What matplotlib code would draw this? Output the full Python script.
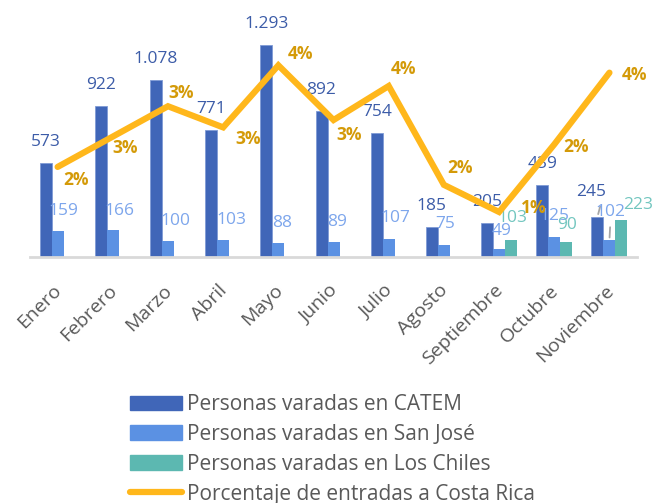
import numpy as np
import matplotlib
matplotlib.use("Agg")
import matplotlib.pyplot as plt
from matplotlib.patches import Patch
from matplotlib.lines import Line2D
from matplotlib.transforms import ScaledTranslation

plt.rcParams['font.family'] = ['Open Sans', 'DejaVu Sans']

# data
months = ['Enero', 'Febrero', 'Marzo', 'Abril', 'Mayo', 'Junio', 'Julio',
          'Agosto', 'Septiembre', 'Octubre', 'Noviembre']
catem = [573, 922, 1078, 771, 1293, 892, 754, 185, 205, 439, 245]
san_jose = [159, 166, 100, 103, 88, 89, 107, 75, 49, 125, 102]
los_chiles = [0, 0, 0, 0, 0, 0, 0, 0, 103, 90, 223]
pct_entradas = [1.96, 2.62, 3.28, 2.82, 4.17, 2.98, 3.72, 1.57, 0.98, 2.45, 4.01]

# label placement, pixels relative to the bar top / line point
catem_off = [(0, 17)] * 9 + [(0, 17), (-6, 21)]
sj_off = [(5.5, 16), (7, 15), (7.5, 16), (8.5, 16), (3.5, 16), (3.5, 16),
          (7, 17), (1, 17), (2, 14), (0, 17), (1, 24)]
lc_off = [(0, 15)] * 8 + [(1, 18), (1, 13), (16.5, 11)]
pct_off = [(6, -13), (0, -11), (0, 13), (12, -12), (9, 11), (3, -15),
           (2, 17), (3, 17), (22, 4), (9, -3), (12, -2)]

c_catem = '#4066b8'
c_sj = '#5b91e3'
c_lc = '#5cb8b1'
c_line = '#ffb71b'
c_pct = '#d49a08'
c_text = '#595959'
c_leader = '#a6a6a6'

fig = plt.figure(figsize=(6.6, 5.03), dpi=100)
ax = fig.add_axes([0.0455, 0.489, 0.9197, 0.457])
ax2 = ax.twinx()

x = np.arange(len(months))
w = 0.217

ax.bar(x - w, catem, w, color=c_catem, edgecolor='#7f9bd6', linewidth=0.6)
ax.bar(x, san_jose, w, color=c_sj)
ax.bar(x + w, los_chiles, w, color=c_lc)

ax.set_xlim(-0.5, len(months) - 0.5)
ax.set_ylim(0, 1400)
ax2.set_ylim(0, 5)

ax2.plot(x, pct_entradas, color=c_line, linewidth=4.5, solid_capstyle='round',
         solid_joinstyle='miter')

def fmt(v):
    return f"{v:,}".replace(",", ".")

def bar_label(xpos, val, off, color):
    # long offsets get a grey leader line like in the original
    arrow = None
    if off[1] > 20:
        arrow = dict(arrowstyle='-', color=c_leader, lw=1.3, shrinkA=3, shrinkB=2,
                     relpos=(0.5 if off[0] >= 0 else 0.85, 0))
    ax.annotate(fmt(val), (xpos, val), xytext=off, textcoords='offset pixels',
                ha='center', va='baseline', fontsize=12.5, color=color,
                arrowprops=arrow)

for i in range(len(months)):
    bar_label(x[i] - w, catem[i], catem_off[i], '#3c5ca8')
    bar_label(x[i], san_jose[i], sj_off[i], '#7da6ec')
    if los_chiles[i]:
        bar_label(x[i] + w, los_chiles[i], lc_off[i], '#72c6bf')
    ax2.annotate(f"{pct_entradas[i]:.0f}%", (x[i], pct_entradas[i]), xytext=pct_off[i],
                 textcoords='offset pixels', ha='left', va='center',
                 fontsize=12.5, fontweight='bold', color=c_pct)

for a in (ax, ax2):
    for s in ('top', 'right', 'left'):
        a.spines[s].set_visible(False)
    a.set_yticks([])
ax2.spines['bottom'].set_visible(False)
ax.spines['bottom'].set_color('#d9d9d9')
ax.spines['bottom'].set_linewidth(2)

ax.set_xticks(x)
ax.set_xticklabels(months, rotation=45, ha='right', rotation_mode='anchor',
                   fontsize=14, color=c_text)
ax.tick_params(axis='x', length=0, pad=16)
shift = ScaledTranslation(-0.05, -0.02, fig.dpi_scale_trans)
for lab in ax.get_xticklabels():
    lab.set_transform(lab.get_transform() + shift)

handles = [Patch(color=c_catem), Patch(color=c_sj), Patch(color=c_lc),
           Line2D([], [], color=c_line, linewidth=4.5, solid_capstyle='round')]
labels = ['Personas varadas en CATEM', 'Personas varadas en San José',
          'Personas varadas en Los Chiles', 'Porcentaje de entradas a Costa Rica']
leg = fig.legend(handles, labels, loc='upper left', bbox_to_anchor=(0.197, 0.216),
                 frameon=False, fontsize=15, handlelength=2.5, handleheight=0.72,
                 handletextpad=0.24, labelspacing=0.42, borderaxespad=0,
                 borderpad=0)
for t in leg.get_texts():
    t.set_color(c_text)

fig.savefig('out.png', dpi=100)
